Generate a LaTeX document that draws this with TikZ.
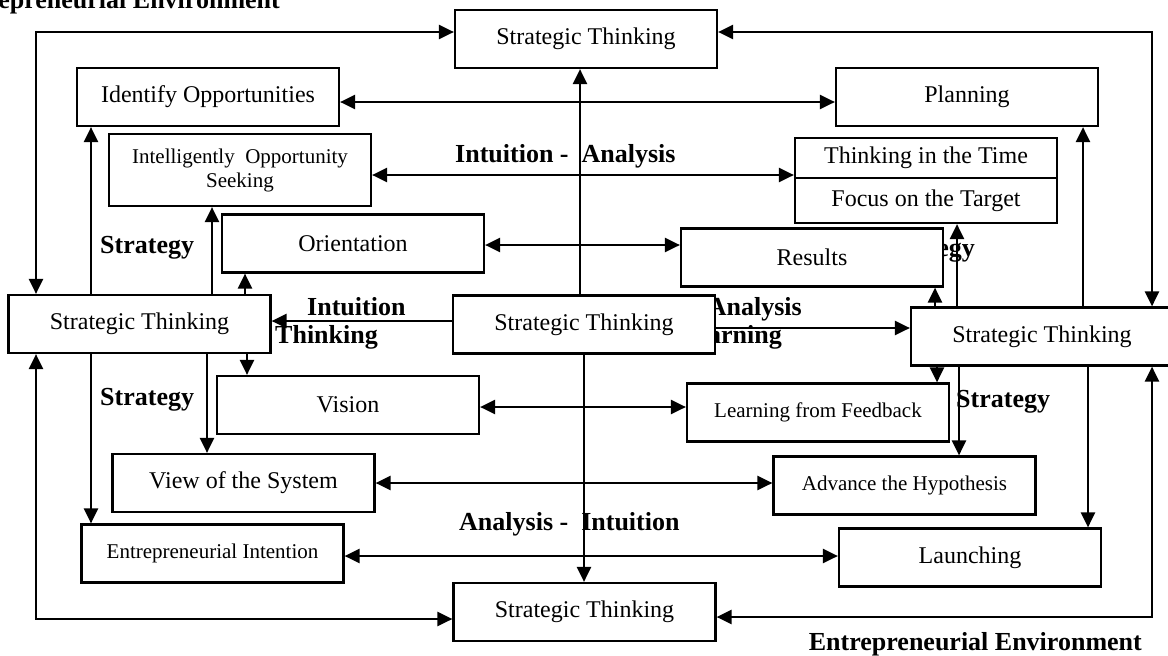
\documentclass[tikz,border=0pt]{standalone}
\usepackage{fontspec}
\setmainfont{Liberation Serif}
\usetikzlibrary{arrows.meta}
\begin{document}
\begin{tikzpicture}[x=1pt,y=-1pt,
  box/.style={draw,line width=2.2pt,fill=white,minimum width=262pt,minimum height=58pt,inner sep=0pt,font=\fontsize{24}{28}\selectfont},
  sbox/.style={box,font=\fontsize{21}{24}\selectfont},
  lbl/.style={font=\bfseries\fontsize{26}{30}\selectfont,inner sep=0pt},
  con/.style={line width=2.4pt,-{Triangle[length=15pt,width=14pt]}},
  dcon/.style={line width=2.4pt,{Triangle[length=15pt,width=14pt]}-{Triangle[length=15pt,width=14pt]}}
]
\useasboundingbox (0,0) rectangle (1168,656);
\clip (0,0) rectangle (1168,656);

% labels
\node[lbl,anchor=base east] (envtop) at (280,8) {Entrepreneurial Environment};
\node[lbl,anchor=base east] (envbot) at (1142,650) {Entrepreneurial Environment};
\node[lbl,anchor=base west] (ia) at (455,162) {Intuition -~~Analysis};
\node[lbl,anchor=base west] (ai) at (459,530) {Analysis -~~Intuition};
\node[lbl,anchor=base west] (s1) at (100,253) {Strategy};
\node[lbl,anchor=base west] (s2) at (100,405) {Strategy};
\node[lbl,anchor=base west] (int) at (307,315) {Intuition};
\node[lbl,anchor=base west] (thk) at (275,343) {Thinking};
\node[lbl,anchor=base east] (ana) at (802,315) {Analysis};
\node[lbl,anchor=base east] (lrn) at (782,343) {Learning};
\node[lbl,anchor=base east] (s3) at (975,256) {Strategy};
\node[lbl,anchor=base west] (s4) at (956,407) {Strategy};

% boxes
\node[box] (tst) at (586,39) {Strategic Thinking};
\node[box] (idf) at (208,97) {Identify Opportunities};
\node[box] (pln) at (967,97) {Planning};
\node[sbox,minimum height=72pt,align=center] (ios) at (240,170) {Intelligently~~Opportunity\\Seeking};
\node[box,minimum height=40pt] (tit) at (926,158) {Thinking in the Time};
\node[box,minimum height=45pt] (foc) at (926,200.5) {Focus on the Target};
\node[box] (ori) at (353,243.5) {Orientation};
\node[box] (res) at (812,257.5) {Results};
\node[box] (lst) at (139.5,324) {Strategic Thinking};
\node[box] (cst) at (584,324.5) {Strategic Thinking};
\node[box] (rst) at (1042,336.5) {Strategic Thinking};
\node[box] (vis) at (348,405) {Vision};
\node[sbox] (lff) at (818,412.5) {Learning from Feedback};
\node[box] (vos) at (243.5,483) {View of the System};
\node[sbox] (adv) at (904.5,485.5) {Advance the Hypothesis};
\node[sbox] (ein) at (212.5,553.5) {Entrepreneurial Intention};
\node[box] (lau) at (970,557.5) {Launching};
\node[box] (bst) at (584.5,612) {Strategic Thinking};

% helper coordinates
\coordinate (cTL) at (36,32);
\coordinate (cTR) at (1152,32);
\coordinate (cBL) at (36,619);
\coordinate (cBR) at (1152,617);
\coordinate (X91) at (91,0);
\coordinate (X207) at (207,0);
\coordinate (X212) at (212,0);
\coordinate (X245) at (245,0);
\coordinate (X247) at (247,0);
\coordinate (X580) at (580,0);
\coordinate (X584) at (584,0);
\coordinate (X935) at (935,0);
\coordinate (X937) at (937,0);
\coordinate (X957) at (957,0);
\coordinate (X959) at (959,0);
\coordinate (X1083) at (1083,0);
\coordinate (X1088) at (1088,0);
\coordinate (Y102) at (0,102);
\coordinate (Y175) at (0,175);
\coordinate (Y245) at (0,245);
\coordinate (Y321) at (0,321);
\coordinate (Y328) at (0,328);
\coordinate (Y407) at (0,407);
\coordinate (Y483) at (0,483);
\coordinate (Y556) at (0,556);

% outer loops
\draw[dcon] (lst.north -| cTL) |- (tst.west |- cTL);
\draw[dcon] (tst.east |- cTR) -| (rst.north -| cTR);
\draw[dcon] (lst.south -| cBL) |- (bst.west |- cBL);
\draw[dcon] (bst.east |- cBR) -| (rst.south -| cBR);

% central
\draw[con] (cst.north -| X580) -- (tst.south -| X580);
\draw[con] (cst.south -| X584) -- (bst.north -| X584);
\draw[con] (cst.west |- Y321) -- (lst.east |- Y321);
\draw[con] (cst.east |- Y328) -- (rst.west |- Y328);

% horizontal pairs
\draw[dcon] (idf.east |- Y102) -- (pln.west |- Y102);
\draw[dcon] (ios.east |- Y175) -- (tit.west |- Y175);
\draw[dcon] (ori.east |- Y245) -- (res.west |- Y245);
\draw[dcon] (vis.east |- Y407) -- (lff.west |- Y407);
\draw[dcon] (vos.east |- Y483) -- (adv.west |- Y483);
\draw[dcon] (ein.east |- Y556) -- (lau.west |- Y556);

% left hub
\draw[con] (lst.north -| X91) -- (idf.south -| X91);
\draw[con] (lst.south -| X91) -- (ein.north -| X91);
\draw[con] (lst.north -| X212) -- (ios.south -| X212);
\draw[con] (lst.south -| X207) -- (vos.north -| X207);
\draw[con] (lst.north -| X245) -- (ori.south -| X245);
\draw[con] (lst.south -| X247) -- (vis.north -| X247);

% right hub
\draw[con] (rst.north -| X935) -- (res.south -| X935);
\draw[con] (rst.north -| X957) -- (foc.south -| X957);
\draw[con] (rst.north -| X1083) -- (pln.south -| X1083);
\draw[con] (rst.south -| X937) -- (lff.north -| X937);
\draw[con] (rst.south -| X959) -- (adv.north -| X959);
\draw[con] (rst.south -| X1088) -- (lau.north -| X1088);
\end{tikzpicture}
\end{document}
